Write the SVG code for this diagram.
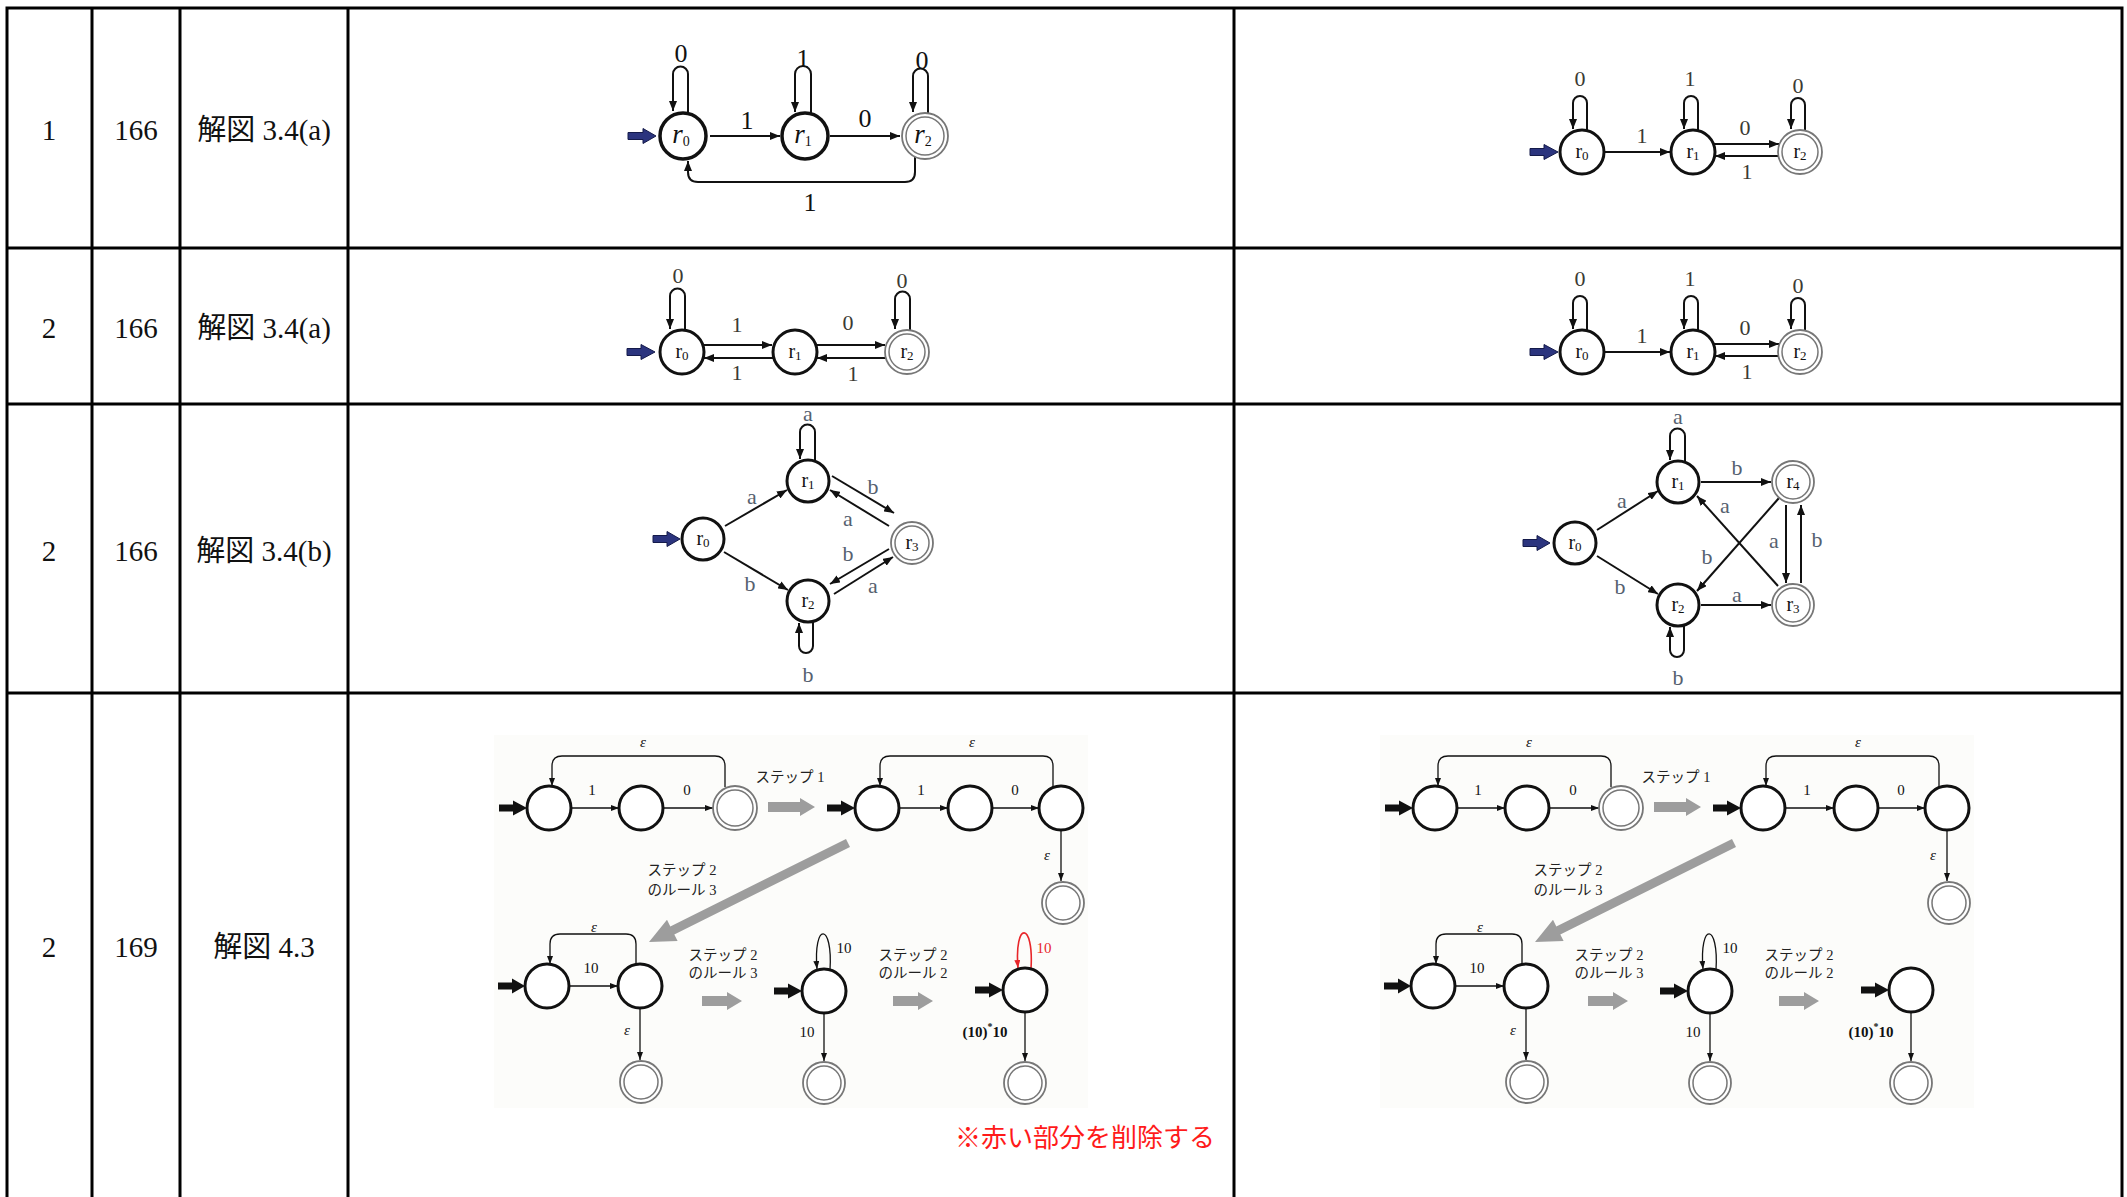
<svg xmlns="http://www.w3.org/2000/svg" width="2127" height="1197" viewBox="0 0 2127 1197">
<defs>
<style>
.grid{stroke:#000;stroke-width:3;fill:none}
.cell{font-family:"Liberation Serif","Noto Sans CJK JP",serif;font-size:29px;fill:#111;text-anchor:middle;dominant-baseline:central}
.nb{fill:#fff;stroke:#111;stroke-width:3.5}
.n{fill:#fff;stroke:#111;stroke-width:3}
.ac{fill:#fff;stroke:#777;stroke-width:1.8}
.aci{fill:none;stroke:#777;stroke-width:1.5}
.e{fill:none;stroke:#111;stroke-width:2;marker-end:url(#ah)}
.es{fill:none;stroke:#111;stroke-width:1.3;marker-end:url(#ahs)}
.er{fill:none;stroke:#e8262a;stroke-width:1.6;marker-end:url(#ahr)}
.blue{fill:#2b347e;stroke:#141a4a;stroke-width:1}
.blk{fill:#111}
.gry{fill:#9d9d9d}
.bg{fill:#fcfcfa}
.t{font-family:"Liberation Serif",serif;text-anchor:middle;dominant-baseline:central}
.big{font-size:26px;fill:#111}
.mid{font-size:22px;fill:#3b3a33}
.ab{font-size:22px;fill:#56616f}
.rl{font-size:20px;fill:#111}
.ri{font-size:27px;font-style:italic;fill:#111}
.sl{font-size:15px;fill:#111}
.slb{font-size:15px;font-weight:bold;fill:#111}
.eps{font-size:15px;font-style:italic;fill:#111}
.red{fill:#e8262a}
.jp{font-family:"Liberation Serif","Noto Sans CJK JP",serif;font-size:14.5px;fill:#222;text-anchor:middle;dominant-baseline:central}
.note{font-family:"Noto Sans CJK JP",sans-serif;font-size:26px;fill:#ff1a1a}
</style>
<marker id="ah" viewBox="0 0 10 8" refX="10" refY="4" markerWidth="10" markerHeight="8" markerUnits="userSpaceOnUse" orient="auto"><path d="M0,0 L10,4 L0,8 z" fill="#111"/></marker>
<marker id="ahs" viewBox="0 0 8 6" refX="8" refY="3" markerWidth="8" markerHeight="6" markerUnits="userSpaceOnUse" orient="auto"><path d="M0,0 L8,3 L0,6 z" fill="#111"/></marker>
<marker id="ahr" viewBox="0 0 8 6" refX="8" refY="3" markerWidth="8" markerHeight="6" markerUnits="userSpaceOnUse" orient="auto"><path d="M0,0 L8,3 L0,6 z" fill="#e8262a"/></marker>
</defs>
<rect width="2127" height="1197" fill="#fff"/>

<g id="table">
<path class="grid" d="M5.5,8 H2123.5 M5.5,248 H2123.5 M5.5,404 H2123.5 M5.5,693 H2123.5 M7,6.5 V1197 M92,6.5 V1197 M180,6.5 V1197 M348,6.5 V1197 M1234,6.5 V1197 M2122,6.5 V1197"/>
<text class="cell" x="49" y="130">1</text>
<text class="cell" x="136" y="130">166</text>
<text class="cell" x="264" y="130">解図 3.4(a)</text>
<text class="cell" x="49" y="328">2</text>
<text class="cell" x="136" y="328">166</text>
<text class="cell" x="264" y="328">解図 3.4(a)</text>
<text class="cell" x="49" y="551">2</text>
<text class="cell" x="136" y="551">166</text>
<text class="cell" x="264" y="551">解図 3.4(b)</text>
<text class="cell" x="49" y="947">2</text>
<text class="cell" x="136" y="947">169</text>
<text class="cell" x="264" y="947">解図 4.3</text>
</g>

<!-- Row 1 left -->
<g id="r1L" transform="translate(683,136)">
<g id="r1L-edges">
<polygon class="blue" points="-55,-3.5 -40,-3.5 -40,-7.5 -27,0 -40,7.5 -40,3.5 -55,3.5"/>
<path class="e" d="M27,0 H97"/>
<path class="e" d="M147,0 H217"/>
<path class="e" d="M5,-23 V-62 A7.5,7.5 0 0 0 -10,-62 V-25"/>
<path class="e" d="M128,-22 V-62 A8,8 0 0 0 112,-62 V-24"/>
<path class="e" d="M245,-22 V-60 A7.5,7.5 0 0 0 230,-60 V-24"/>
<path class="e" d="M232,21 V36 Q232,46 222,46 H15 Q5,46 5,36 V25"/>
<text class="t big" x="64" y="-16">1</text>
<text class="t big" x="182" y="-18">0</text>
<text class="t big" x="-2" y="-83">0</text>
<text class="t big" x="120" y="-78">1</text>
<text class="t big" x="239" y="-76">0</text>
<text class="t big" x="127" y="66">1</text>
</g>
<g id="r1L-r0"><circle class="nb" cx="0" cy="0" r="23"/><text class="t ri" x="-2" y="-2">r<tspan font-size="14" font-style="normal" dy="7">0</tspan></text></g>
<g id="r1L-r1"><circle class="nb" cx="122" cy="0" r="23"/><text class="t ri" x="120" y="-2">r<tspan font-size="14" font-style="normal" dy="7">1</tspan></text></g>
<g id="r1L-r2"><circle class="ac" cx="242" cy="0" r="23"/><circle class="aci" cx="242" cy="0" r="19"/><text class="t ri" x="240" y="-2">r<tspan font-size="14" font-style="normal" dy="7">2</tspan></text></g>
</g>

<!-- Row 1 right -->
<g id="r1R" transform="translate(1582,152)">
<g id="r1R-edges">
<polygon class="blue" points="-52,-3.5 -38,-3.5 -38,-7.5 -24,0 -38,7.5 -38,3.5 -52,3.5"/>
<path class="e" d="M23,0 H88"/>
<path class="e" d="M132,-8 H197"/>
<path class="e" d="M197,4 H133"/>
<path class="e" d="M5,-22 V-49 A7,7 0 0 0 -9,-49 V-23"/>
<path class="e" d="M116,-22 V-49 A7,7 0 0 0 102,-49 V-23"/>
<path class="e" d="M223,-22 V-47 A7,7 0 0 0 209,-47 V-23"/>
<text class="t mid" x="60" y="-17">1</text>
<text class="t mid" x="163" y="-25">0</text>
<text class="t mid" x="165" y="19">1</text>
<text class="t mid" x="-2" y="-74">0</text>
<text class="t mid" x="108" y="-74">1</text>
<text class="t mid" x="216" y="-67">0</text>
</g>
<g id="r1R-r0"><circle class="n" cx="0" cy="0" r="22"/><text class="t rl" x="0" y="-1">r<tspan font-size="13" dy="4">0</tspan></text></g>
<g id="r1R-r1"><circle class="n" cx="111" cy="0" r="22"/><text class="t rl" x="111" y="-1">r<tspan font-size="13" dy="4">1</tspan></text></g>
<g id="r1R-r2"><circle class="ac" cx="218" cy="0" r="22"/><circle class="aci" cx="218" cy="0" r="18"/><text class="t rl" x="218" y="-1">r<tspan font-size="13" dy="4">2</tspan></text></g>
</g>

<!-- Row 2 left -->
<g id="r2L" transform="translate(682,352)">
<g id="r2L-edges">
<polygon class="blue" points="-55,-3.5 -41,-3.5 -41,-7.5 -27,0 -41,7.5 -41,3.5 -55,3.5"/>
<path class="e" d="M21,-7 H90"/>
<path class="e" d="M91,6 H22"/>
<path class="e" d="M134,-7 H203"/>
<path class="e" d="M204,6 H135"/>
<path class="e" d="M3,-22 V-56 A7.5,7.5 0 0 0 -12,-56 V-23"/>
<path class="e" d="M228,-22 V-53 A7.5,7.5 0 0 0 213,-53 V-23"/>
<text class="t mid" x="55" y="-28">1</text>
<text class="t mid" x="166" y="-30">0</text>
<text class="t mid" x="55" y="20">1</text>
<text class="t mid" x="171" y="21">1</text>
<text class="t mid" x="-4" y="-77">0</text>
<text class="t mid" x="220" y="-72">0</text>
</g>
<g id="r2L-r0"><circle class="n" cx="0" cy="0" r="22"/><text class="t rl" x="0" y="-1">r<tspan font-size="13" dy="4">0</tspan></text></g>
<g id="r2L-r1"><circle class="n" cx="113" cy="0" r="22"/><text class="t rl" x="113" y="-1">r<tspan font-size="13" dy="4">1</tspan></text></g>
<g id="r2L-r2"><circle class="ac" cx="225" cy="0" r="22"/><circle class="aci" cx="225" cy="0" r="18"/><text class="t rl" x="225" y="-1">r<tspan font-size="13" dy="4">2</tspan></text></g>
</g>

<!-- Row 2 right -->
<g id="r2R" transform="translate(1582,352)">
<g id="r2R-edges">
<polygon class="blue" points="-52,-3.5 -38,-3.5 -38,-7.5 -24,0 -38,7.5 -38,3.5 -52,3.5"/>
<path class="e" d="M23,0 H88"/>
<path class="e" d="M132,-8 H197"/>
<path class="e" d="M197,4 H133"/>
<path class="e" d="M5,-22 V-49 A7,7 0 0 0 -9,-49 V-23"/>
<path class="e" d="M116,-22 V-49 A7,7 0 0 0 102,-49 V-23"/>
<path class="e" d="M223,-22 V-47 A7,7 0 0 0 209,-47 V-23"/>
<text class="t mid" x="60" y="-17">1</text>
<text class="t mid" x="163" y="-25">0</text>
<text class="t mid" x="165" y="19">1</text>
<text class="t mid" x="-2" y="-74">0</text>
<text class="t mid" x="108" y="-74">1</text>
<text class="t mid" x="216" y="-67">0</text>
</g>
<g id="r2R-r0"><circle class="n" cx="0" cy="0" r="22"/><text class="t rl" x="0" y="-1">r<tspan font-size="13" dy="4">0</tspan></text></g>
<g id="r2R-r1"><circle class="n" cx="111" cy="0" r="22"/><text class="t rl" x="111" y="-1">r<tspan font-size="13" dy="4">1</tspan></text></g>
<g id="r2R-r2"><circle class="ac" cx="218" cy="0" r="22"/><circle class="aci" cx="218" cy="0" r="18"/><text class="t rl" x="218" y="-1">r<tspan font-size="13" dy="4">2</tspan></text></g>
</g>

<!-- Row 3 left -->
<g id="r3L" transform="translate(0,-4)">
<g id="r3L-edges">
<polygon class="blue" points="653,539.5 667,539.5 667,535.5 680,543 667,550.5 667,546.5 653,546.5"/>
<path class="e" d="M725,530 L787,494"/>
<path class="e" d="M724,556 L788,594"/>
<path class="e" d="M832,480 L894,517"/>
<path class="e" d="M889,530 L830,494"/>
<path class="e" d="M889,553 L830,588"/>
<path class="e" d="M834,598 L893,561"/>
<path class="e" d="M815,465 V436 A7.5,7.5 0 0 0 800,436 V463"/>
<path class="e" d="M813,625 V650 A7,7 0 0 1 799,650 V627"/>
<text class="t ab" x="752" y="500">a</text>
<text class="t ab" x="750" y="587">b</text>
<text class="t ab" x="873" y="490">b</text>
<text class="t ab" x="848" y="522">a</text>
<text class="t ab" x="848" y="557">b</text>
<text class="t ab" x="873" y="589">a</text>
<text class="t ab" x="808" y="417">a</text>
<text class="t ab" x="808" y="678">b</text>
</g>
<g id="r3L-r0"><circle class="n" cx="703" cy="543" r="21"/><text class="t rl" x="703" y="542">r<tspan font-size="13" dy="4">0</tspan></text></g>
<g id="r3L-r1"><circle class="n" cx="808" cy="485" r="21"/><text class="t rl" x="808" y="484">r<tspan font-size="13" dy="4">1</tspan></text></g>
<g id="r3L-r2"><circle class="n" cx="808" cy="605" r="21"/><text class="t rl" x="808" y="604">r<tspan font-size="13" dy="4">2</tspan></text></g>
<g id="r3L-r3"><circle class="ac" cx="912" cy="547" r="21"/><circle class="aci" cx="912" cy="547" r="17"/><text class="t rl" x="912" y="546">r<tspan font-size="13" dy="4">3</tspan></text></g>
</g>

<!-- Row 3 right -->
<g id="r3R">
<g id="r3R-edges">
<polygon class="blue" points="1523,539.5 1537,539.5 1537,535.5 1550,543 1537,550.5 1537,546.5 1523,546.5"/>
<path class="e" d="M1597,530 L1658,491"/>
<path class="e" d="M1597,556 L1658,594"/>
<path class="e" d="M1701,482 L1771,482"/>
<path class="e" d="M1701,605 L1771,605"/>
<path class="e" d="M1778,586 L1697,496"/>
<path class="e" d="M1779,498 L1697,591"/>
<path class="e" d="M1786,505 V583"/>
<path class="e" d="M1801,583 V505"/>
<path class="e" d="M1685,462 V436 A7.5,7.5 0 0 0 1670,436 V460"/>
<path class="e" d="M1684,625 V650 A7,7 0 0 1 1670,650 V627"/>
<text class="t ab" x="1622" y="500">a</text>
<text class="t ab" x="1620" y="586">b</text>
<text class="t ab" x="1737" y="467">b</text>
<text class="t ab" x="1737" y="594">a</text>
<text class="t ab" x="1725" y="505">a</text>
<text class="t ab" x="1707" y="556">b</text>
<text class="t ab" x="1774" y="540">a</text>
<text class="t ab" x="1817" y="539">b</text>
<text class="t ab" x="1678" y="416">a</text>
<text class="t ab" x="1678" y="677">b</text>
</g>
<g id="r3R-r0"><circle class="n" cx="1575" cy="543" r="21"/><text class="t rl" x="1575" y="542">r<tspan font-size="13" dy="4">0</tspan></text></g>
<g id="r3R-r1"><circle class="n" cx="1678" cy="482" r="21"/><text class="t rl" x="1678" y="481">r<tspan font-size="13" dy="4">1</tspan></text></g>
<g id="r3R-r2"><circle class="n" cx="1678" cy="605" r="21"/><text class="t rl" x="1678" y="604">r<tspan font-size="13" dy="4">2</tspan></text></g>
<g id="r3R-r4"><circle class="ac" cx="1793" cy="482" r="21"/><circle class="aci" cx="1793" cy="482" r="17"/><text class="t rl" x="1793" y="481">r<tspan font-size="13" dy="4">4</tspan></text></g>
<g id="r3R-r3"><circle class="ac" cx="1793" cy="605" r="21"/><circle class="aci" cx="1793" cy="605" r="17"/><text class="t rl" x="1793" y="604">r<tspan font-size="13" dy="4">3</tspan></text></g>
</g>

<!-- Row 4 left -->
<g id="r4L">
<rect class="bg" x="494" y="735" width="594" height="373"/>
<g id="r4L-edges">
<polygon class="blk" points="499,804.5 513,804.5 513,800.5 527,808 513,815.5 513,811.5 499,811.5"/>
<polygon class="blk" points="827,804.5 841,804.5 841,800.5 855,808 841,815.5 841,811.5 827,811.5"/>
<polygon class="blk" points="498,982.5 512,982.5 512,978.5 525,986 512,993.5 512,989.5 498,989.5"/>
<polygon class="blk" points="774,987.5 788,987.5 788,983.5 802,991 788,998.5 788,994.5 774,994.5"/>
<polygon class="blk" points="975,986.5 989,986.5 989,982.5 1003,990 989,997.5 989,993.5 975,993.5"/>
<polygon class="gry" points="768,802 800,802 800,798 815,807 800,816 800,812 768,812"/>
<polygon class="gry" points="846,839 670.3,926.4 667,919.7 649,942 677.6,941.1 674.3,934.4 850,847"/>
<polygon class="gry" points="702,996 727,996 727,992 742,1001 727,1010 727,1006 702,1006"/>
<polygon class="gry" points="893,996 918,996 918,992 933,1001 918,1010 918,1006 893,1006"/>
<path class="es" d="M571,808 H619"/>
<path class="es" d="M663,808 H713"/>
<path class="es" d="M725,787 V766 Q725,756 715,756 H562 Q552,756 552,766 V786"/>
<path class="es" d="M899,808 H948"/>
<path class="es" d="M992,808 H1039"/>
<path class="es" d="M1053,788 V766 Q1053,756 1043,756 H890 Q880,756 880,766 V786"/>
<path class="es" d="M1061,830 V881"/>
<path class="es" d="M569,986 H618"/>
<path class="es" d="M636,965 V944 Q636,934 626,934 H560 Q550,934 550,944 V964"/>
<path class="es" d="M640,1008 V1060"/>
<path class="es" d="M830,970 C833,922 813,922 817,969"/>
<path class="es" d="M824,1013 V1061"/>
<path class="er" d="M1031,969 C1034,921 1014,921 1018,968"/>
<path class="es" d="M1025,1012 V1061"/>
<text class="t eps" x="643" y="742">ε</text>
<text class="t eps" x="972" y="742">ε</text>
<text class="t eps" x="594" y="927">ε</text>
<text class="t eps" x="627" y="1030">ε</text>
<text class="t eps" x="1047" y="855">ε</text>
<text class="t sl" x="592" y="790">1</text>
<text class="t sl" x="687" y="790">0</text>
<text class="t sl" x="921" y="790">1</text>
<text class="t sl" x="1015" y="790">0</text>
<text class="t sl" x="591" y="968">10</text>
<text class="t sl" x="844" y="948">10</text>
<text class="t sl" x="807" y="1032">10</text>
<text class="t slb" x="985" y="1032">(10)<tspan font-size="10" dy="-6">*</tspan><tspan dy="6">10</tspan></text>
<text class="t sl red" x="1044" y="948">10</text>
<text class="jp" x="790" y="777">ステップ 1</text>
<text class="jp" x="682" y="870">ステップ 2</text>
<text class="jp" x="682" y="890">のルール 3</text>
<text class="jp" x="723" y="955">ステップ 2</text>
<text class="jp" x="723" y="973">のルール 3</text>
<text class="jp" x="913" y="955">ステップ 2</text>
<text class="jp" x="913" y="973">のルール 2</text>
</g>
<g id="r4L-A1"><circle class="n" cx="549" cy="808" r="22"/></g>
<g id="r4L-A2"><circle class="n" cx="641" cy="808" r="22"/></g>
<g id="r4L-A3"><circle class="ac" cx="735" cy="808" r="22"/><circle class="aci" cx="735" cy="808" r="18"/></g>
<g id="r4L-B1"><circle class="n" cx="877" cy="808" r="22"/></g>
<g id="r4L-B2"><circle class="n" cx="970" cy="808" r="22"/></g>
<g id="r4L-B3"><circle class="n" cx="1061" cy="808" r="22"/></g>
<g id="r4L-B4"><circle class="ac" cx="1063" cy="903" r="21"/><circle class="aci" cx="1063" cy="903" r="17"/></g>
<g id="r4L-C1"><circle class="n" cx="547" cy="986" r="22"/></g>
<g id="r4L-C2"><circle class="n" cx="640" cy="986" r="22" stroke-width="3.5"/></g>
<g id="r4L-C3"><circle class="ac" cx="641" cy="1082" r="21"/><circle class="aci" cx="641" cy="1082" r="17"/></g>
<g id="r4L-D1"><circle class="n" cx="824" cy="991" r="22"/></g>
<g id="r4L-D2"><circle class="ac" cx="824" cy="1083" r="21"/><circle class="aci" cx="824" cy="1083" r="17"/></g>
<g id="r4L-E1"><circle class="n" cx="1025" cy="990" r="22"/></g>
<g id="r4L-E2"><circle class="ac" cx="1025" cy="1083" r="21"/><circle class="aci" cx="1025" cy="1083" r="17"/></g>
<text class="note" x="955" y="1147">※赤い部分を削除する</text>
</g>

<!-- Row 4 right -->
<g id="r4R" transform="translate(886,0)">
<rect class="bg" x="494" y="735" width="594" height="373"/>
<g id="r4R-edges">
<polygon class="blk" points="499,804.5 513,804.5 513,800.5 527,808 513,815.5 513,811.5 499,811.5"/>
<polygon class="blk" points="827,804.5 841,804.5 841,800.5 855,808 841,815.5 841,811.5 827,811.5"/>
<polygon class="blk" points="498,982.5 512,982.5 512,978.5 525,986 512,993.5 512,989.5 498,989.5"/>
<polygon class="blk" points="774,987.5 788,987.5 788,983.5 802,991 788,998.5 788,994.5 774,994.5"/>
<polygon class="blk" points="975,986.5 989,986.5 989,982.5 1003,990 989,997.5 989,993.5 975,993.5"/>
<polygon class="gry" points="768,802 800,802 800,798 815,807 800,816 800,812 768,812"/>
<polygon class="gry" points="846,839 670.3,926.4 667,919.7 649,942 677.6,941.1 674.3,934.4 850,847"/>
<polygon class="gry" points="702,996 727,996 727,992 742,1001 727,1010 727,1006 702,1006"/>
<polygon class="gry" points="893,996 918,996 918,992 933,1001 918,1010 918,1006 893,1006"/>
<path class="es" d="M571,808 H619"/>
<path class="es" d="M663,808 H713"/>
<path class="es" d="M725,787 V766 Q725,756 715,756 H562 Q552,756 552,766 V786"/>
<path class="es" d="M899,808 H948"/>
<path class="es" d="M992,808 H1039"/>
<path class="es" d="M1053,788 V766 Q1053,756 1043,756 H890 Q880,756 880,766 V786"/>
<path class="es" d="M1061,830 V881"/>
<path class="es" d="M569,986 H618"/>
<path class="es" d="M636,965 V944 Q636,934 626,934 H560 Q550,934 550,944 V964"/>
<path class="es" d="M640,1008 V1060"/>
<path class="es" d="M830,970 C833,922 813,922 817,969"/>
<path class="es" d="M824,1013 V1061"/>
<path class="es" d="M1025,1012 V1061"/>
<text class="t eps" x="643" y="742">ε</text>
<text class="t eps" x="972" y="742">ε</text>
<text class="t eps" x="594" y="927">ε</text>
<text class="t eps" x="627" y="1030">ε</text>
<text class="t eps" x="1047" y="855">ε</text>
<text class="t sl" x="592" y="790">1</text>
<text class="t sl" x="687" y="790">0</text>
<text class="t sl" x="921" y="790">1</text>
<text class="t sl" x="1015" y="790">0</text>
<text class="t sl" x="591" y="968">10</text>
<text class="t sl" x="844" y="948">10</text>
<text class="t sl" x="807" y="1032">10</text>
<text class="t slb" x="985" y="1032">(10)<tspan font-size="10" dy="-6">*</tspan><tspan dy="6">10</tspan></text>
<text class="jp" x="790" y="777">ステップ 1</text>
<text class="jp" x="682" y="870">ステップ 2</text>
<text class="jp" x="682" y="890">のルール 3</text>
<text class="jp" x="723" y="955">ステップ 2</text>
<text class="jp" x="723" y="973">のルール 3</text>
<text class="jp" x="913" y="955">ステップ 2</text>
<text class="jp" x="913" y="973">のルール 2</text>
</g>
<g id="r4R-A1"><circle class="n" cx="549" cy="808" r="22"/></g>
<g id="r4R-A2"><circle class="n" cx="641" cy="808" r="22"/></g>
<g id="r4R-A3"><circle class="ac" cx="735" cy="808" r="22"/><circle class="aci" cx="735" cy="808" r="18"/></g>
<g id="r4R-B1"><circle class="n" cx="877" cy="808" r="22"/></g>
<g id="r4R-B2"><circle class="n" cx="970" cy="808" r="22"/></g>
<g id="r4R-B3"><circle class="n" cx="1061" cy="808" r="22"/></g>
<g id="r4R-B4"><circle class="ac" cx="1063" cy="903" r="21"/><circle class="aci" cx="1063" cy="903" r="17"/></g>
<g id="r4R-C1"><circle class="n" cx="547" cy="986" r="22"/></g>
<g id="r4R-C2"><circle class="n" cx="640" cy="986" r="22" stroke-width="3.5"/></g>
<g id="r4R-C3"><circle class="ac" cx="641" cy="1082" r="21"/><circle class="aci" cx="641" cy="1082" r="17"/></g>
<g id="r4R-D1"><circle class="n" cx="824" cy="991" r="22"/></g>
<g id="r4R-D2"><circle class="ac" cx="824" cy="1083" r="21"/><circle class="aci" cx="824" cy="1083" r="17"/></g>
<g id="r4R-E1"><circle class="n" cx="1025" cy="990" r="22"/></g>
<g id="r4R-E2"><circle class="ac" cx="1025" cy="1083" r="21"/><circle class="aci" cx="1025" cy="1083" r="17"/></g>
</g>
</svg>
